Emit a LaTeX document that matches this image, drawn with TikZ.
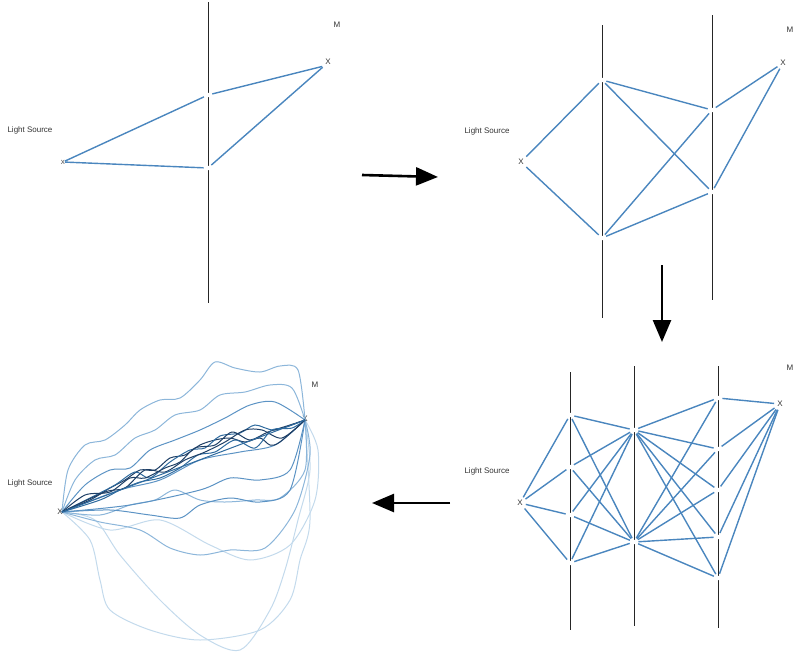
\documentclass[tikz,border=0pt]{standalone}
\usepackage{fontspec}
\setmainfont{Liberation Sans}
\usetikzlibrary{arrows.meta}
\begin{document}
\begin{tikzpicture}[x=1pt,y=-1pt,
  wall/.style={black!85,line width=0.9pt},
  ray/.style={draw=rayc,line width=1.4pt,shorten >=2pt,shorten <=2pt},
  pt/.style={circle,fill=white,inner sep=1.6pt},
  lbl/.style={font=\fontsize{8}{9}\selectfont,inner sep=1pt,text=black!80},
  big/.style={-{Triangle[length=22pt,width=18pt]},line width=2.6pt,black},
  wv/.style={line width=1pt}]
\useasboundingbox (0,0) rectangle (800,656);
\definecolor{rayc}{HTML}{4A86BE}
\definecolor{c1}{HTML}{1E3F66}\definecolor{c2}{HTML}{2E6A9E}\definecolor{c3}{HTML}{5C93C4}
\definecolor{c4}{HTML}{8CB6DA}\definecolor{c5}{HTML}{C3DAEC}
% ---------- panel 1
\draw[wall] (208,2) -- (208,303);
\node[lbl] (ls1) at (30,130) {Light Source};
\node[lbl] (m1) at (337,25) {M};
\node[lbl,font=\fontsize{6}{7}\selectfont] (s1) at (63,162) {X};
\node[lbl] (x1) at (328,62) {X};
\node[pt] (a1) at (208,95) {}; \node[pt] (b1) at (208,168) {};
\draw[ray] (s1.center) -- (a1); \draw[ray] (a1) -- (x1.south west);
\draw[ray] (s1.center) -- (b1); \draw[ray] (b1) -- (x1.south west);
% ---------- panel 2
\draw[wall] (602,25) -- (602,318); \draw[wall] (712,15) -- (712,300);
\node[lbl] (ls2) at (487,131) {Light Source};
\node[lbl] (m2) at (790,30) {M};
\node[lbl] (s2) at (521,162) {X}; \node[lbl] (x2) at (783,63) {X};
\node[pt] (a2) at (602,80) {}; \node[pt] (b2) at (602,238) {};
\node[pt] (c2) at (712,110) {}; \node[pt] (d2) at (712,192) {};
\foreach \p/\q in {s2/a2,s2/b2,a2/c2,a2/d2,b2/c2,b2/d2,c2/x2,d2/x2}
  \draw[ray] (\p) -- (\q);
% ---------- arrows
\coordinate (ar1a) at (362,175); \coordinate (ar1b) at (438,177);
\coordinate (ar2a) at (662,265); \coordinate (ar2b) at (662,342);
\coordinate (ar3a) at (450,503); \coordinate (ar3b) at (372,503);
\draw[big] (ar1a) -- (ar1b); \draw[big] (ar2a) -- (ar2b); \draw[big] (ar3a) -- (ar3b);
% ---------- panel 3
\draw[wall] (570,372) -- (570,630); \draw[wall] (634,366) -- (634,626); \draw[wall] (718,366) -- (718,628);
\node[lbl] (ls3) at (487,471) {Light Source};
\node[lbl] (m3) at (790,368) {M};
\node[lbl] (s3) at (520,503) {X}; \node[lbl] (x3) at (780,404) {X};
\foreach \i/\y in {1/415,2/467,3/515,4/563} \node[pt] (l\i) at (570,\y) {};
\node[pt] (p3) at (634,430) {}; \node[pt] (q3) at (634,542) {};
\foreach \i/\y in {1/398,2/449,3/490,4/537,5/578} \node[pt] (r\i) at (718,\y) {};
\foreach \i in {1,...,4} {\draw[ray] (s3) -- (l\i); \draw[ray] (l\i) -- (p3); \draw[ray] (l\i) -- (q3);}
\foreach \i in {1,...,5} {\draw[ray] (p3) -- (r\i); \draw[ray] (q3) -- (r\i); \draw[ray] (r\i) -- (x3);}
% ---------- panel 4
\node[lbl] (ls4) at (30,483) {Light Source};
\node[lbl] (m4) at (315,385) {M};
\node[lbl] (s4) at (60,512) {X}; \node[lbl] (x4) at (305,419) {X};
\begin{scope}[wv]
\draw[c5] plot[smooth] coordinates {(62,512) (90,540) (100,580) (110,610) (150,630) (200,640) (260,630) (290,600) (300,560) (310,520) (305,420)};
\draw[c5] plot[smooth] coordinates {(62,512) (95,520) (120,555) (160,600) (200,635) (240,650) (270,610) (285,570) (298,520) (310,470) (305,420)};
\draw[c5] plot[smooth] coordinates {(62,512) (110,530) (160,520) (210,545) (250,560) (290,545) (315,500) (318,450) (305,420)};
\draw[c4] plot[smooth] coordinates {(62,512) (68,470) (85,445) (105,440) (125,425) (140,410) (160,400) (180,398) (200,380) (215,362) (235,368) (260,372) (280,366) (298,370) (305,420)};
\draw[c4] plot[smooth] coordinates {(62,512) (75,480) (95,460) (115,455) (135,438) (155,430) (175,415) (200,410) (220,395) (245,392) (270,385) (292,388) (305,420)};
\draw[c3] plot[smooth] coordinates {(62,512) (85,485) (110,470) (130,468) (150,450) (175,440) (200,430) (225,418) (250,405) (275,402) (305,420)};
\draw[c4] plot[smooth] coordinates {(62,512) (100,515) (130,505) (155,500) (175,490) (200,500) (225,502) (255,500) (280,498) (305,470) (305,420)};
\draw[c4] plot[smooth] coordinates {(62,512) (100,522) (140,530) (170,548) (200,555) (230,550) (265,548) (295,510) (310,455) (305,420)};
\draw[c3] plot[smooth] coordinates {(62,512) (110,510) (150,515) (180,518) (200,505) (230,498) (260,502) (290,490) (305,420)};
\draw[c3] plot[smooth] coordinates {(62,512) (130,505) (200,490) (230,478) (260,480) (290,470) (305,420)};
\draw[c3] plot[smooth] coordinates {(62,512) (120,490) (160,480) (200,460) (240,452) (275,445) (305,420)};
\draw[c1] plot[smooth] coordinates {(62,512) (90,500) (110,488) (125,480) (140,470) (155,470) (170,458) (185,455) (200,445) (215,440) (230,438) (245,442) (260,438) (270,445) (280,442) (305,420)};
\draw[c2] plot[smooth] coordinates {(62,512) (90,498) (115,485) (135,472) (150,478) (170,462) (190,450) (205,448) (220,436) (240,433) (255,425) (275,430) (305,420)};
\draw[c1] plot[smooth] coordinates {(62,512) (85,495) (110,492) (130,478) (145,478) (165,468) (180,462) (195,448) (215,445) (232,432) (250,440) (268,432) (290,425) (305,420)};
\draw[c2] plot[smooth] coordinates {(62,512) (100,500) (120,490) (140,482) (160,478) (180,468) (198,455) (215,452) (235,440) (255,448) (272,430) (292,428) (305,420)};
\draw[c1] plot[smooth] coordinates {(62,512) (105,492) (125,488) (145,470) (165,472) (185,460) (205,452) (225,442) (245,430) (262,430) (282,438) (305,420)};
\draw[c2] (62,512) -- (305,420);
\end{scope}
\end{tikzpicture}
\end{document}
